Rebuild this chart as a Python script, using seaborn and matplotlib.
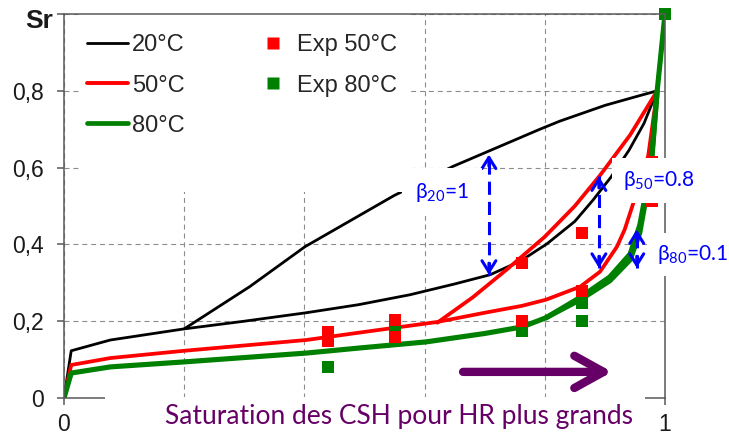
import matplotlib
matplotlib.use("Agg")
import matplotlib.pyplot as plt
import seaborn as sns
from matplotlib.patches import Rectangle
from matplotlib.lines import Line2D

# ---- isotherm curves (HR, Sr) ----
hr_20_ads = [0, 0.012, 0.077, 0.2, 0.3, 0.403, 0.49, 0.576, 0.65, 0.709, 0.76, 0.804, 0.85, 0.88, 0.91, 0.94, 0.965, 0.987, 1.0]
sr_20_ads = [0, 0.123, 0.151, 0.18, 0.20, 0.222, 0.243, 0.269, 0.297, 0.321, 0.357, 0.402, 0.46, 0.515, 0.575, 0.645, 0.715, 0.8, 1.0]
hr_20_des = [0.2, 0.309, 0.401, 0.549, 0.647, 0.792, 0.825, 0.9, 0.95, 0.987]
sr_20_des = [0.18, 0.29, 0.394, 0.527, 0.603, 0.70, 0.721, 0.762, 0.784, 0.8]

hr_50_ads = [0, 0.012, 0.077, 0.2, 0.403, 0.49, 0.621, 0.70, 0.762, 0.802, 0.859, 0.892, 0.92, 0.933, 0.953, 0.972, 0.987, 1.0]
sr_50_ads = [0, 0.086, 0.104, 0.123, 0.151, 0.17, 0.198, 0.222, 0.24, 0.256, 0.29, 0.329, 0.394, 0.439, 0.535, 0.63, 0.8, 1.0]
hr_50_des = [0.621, 0.68, 0.737, 0.80, 0.85, 0.892, 0.942, 0.987]
sr_50_des = [0.196, 0.262, 0.335, 0.42, 0.50, 0.58, 0.685, 0.8]

hr_80_ads = [0, 0.012, 0.077, 0.2, 0.403, 0.49, 0.602, 0.70, 0.762, 0.802, 0.859, 0.908, 0.942, 0.958, 0.97, 0.978, 0.987, 1.0]
sr_80_ads = [0, 0.065, 0.081, 0.094, 0.117, 0.13, 0.146, 0.168, 0.185, 0.209, 0.256, 0.305, 0.36, 0.43, 0.535, 0.62, 0.8, 1.0]
hr_80_des = [0.802, 0.859, 0.908, 0.942, 0.958, 0.97, 0.978, 0.987]
sr_80_des = [0.209, 0.262, 0.315, 0.375, 0.45, 0.55, 0.632, 0.8]

# ---- experimental points ----
hr_exp50 = [0.44, 0.44, 0.55, 0.55, 0.762, 0.762, 0.862, 0.862, 0.978, 0.978]
sr_exp50 = [0.148, 0.171, 0.160, 0.202, 0.201, 0.352, 0.279, 0.43, 0.513, 0.615]
hr_exp80 = [0.44, 0.55, 0.762, 0.862, 0.862, 1.0]
sr_exp80 = [0.081, 0.18, 0.175, 0.248, 0.201, 1.0]

# ---- hysteresis gaps (beta annotations) ----
beta_hr = [0.707, 0.89, 0.953]
beta_lo = [0.321, 0.339, 0.339]
beta_hi = [0.634, 0.577, 0.439]
beta_labels = [r"β$_\mathregular{20}$=1", r"β$_\mathregular{50}$=0.8", r"β$_\mathregular{80}$=0.1"]
beta_text_x = [0.584, 0.930, 0.987]
beta_text_y = [0.522, 0.551, 0.360]
beta_box_pad = [9, 8, 7]

yticks = [0, 0.2, 0.4, 0.6, 0.8, 1.0]
ytick_labels = ["0", "0,2", "0,4", "0,6", "0,8", ""]
xticks = [0, 0.2, 0.4, 0.6, 0.8, 1.0]
xtick_labels = ["0", "", "", "", "", "1"]

BLACK, RED, GREEN = "#000000", "#ff0000", "#008000"
BLUE, PURPLE, AXIS = "#0000ff", "#660066", "#595959"

sns.set_theme(style="white")
plt.rcParams["font.family"] = ["Liberation Sans", "DejaVu Sans"]

fig = plt.figure(figsize=(7.29, 4.38), dpi=100)
ax = fig.add_axes([64 / 729, 40 / 438, 601 / 729, 384 / 438])
ax.set_xlim(0, 1)
ax.set_ylim(0, 1)

# grid and frame
ax.set_axisbelow(True)
ax.grid(True, color="#8c8c8c", lw=0.8, linestyle=(0, (4.5, 3.5)))
for sp in ax.spines.values():
    sp.set_color(AXIS)
    sp.set_linewidth(1.1)
    sp.set_zorder(4.5)

ax.set_xticks(xticks, xtick_labels)
ax.set_yticks(yticks, ytick_labels)
ax.tick_params(axis="both", bottom=True, left=True, direction="out", length=5,
               width=1.1, color=AXIS, labelsize=16.5, labelcolor="#1a1a1a")
ax.tick_params(axis="y", pad=9.5)
ax.tick_params(axis="x", pad=6)

# curves
curves = [
    (hr_20_ads, sr_20_ads, BLACK, 2.0),
    (hr_20_des, sr_20_des, BLACK, 2.0),
    (hr_50_ads, sr_50_ads, RED, 2.7),
    (hr_50_des, sr_50_des, RED, 2.7),
    (hr_80_ads, sr_80_ads, GREEN, 3.7),
    (hr_80_des, sr_80_des, GREEN, 3.7),
]
for hx, sy, col, lw in curves:
    sns.lineplot(x=hx, y=sy, sort=False, estimator=None, color=col, lw=lw, ax=ax, zorder=2)

# experimental squares
sns.scatterplot(x=hr_exp80, y=sr_exp80, marker="s", s=64, color=GREEN, linewidth=0, ax=ax, zorder=3, clip_on=False)
sns.scatterplot(x=hr_exp50, y=sr_exp50, marker="s", s=64, color=RED, linewidth=0, ax=ax, zorder=3.2)

# dashed double arrows for the hysteresis amplitude
for x, lo, hi in zip(beta_hr, beta_lo, beta_hi):
    ax.plot([x, x], [lo, hi], color=BLUE, lw=2.2, dashes=(4.3, 2.3), zorder=3.5)
    for tip, base in ((hi, hi - 0.03), (lo, lo + 0.03)):
        ax.annotate("", xy=(x, tip), xytext=(x, base), zorder=3.5,
                    arrowprops=dict(arrowstyle="->,head_length=0.8,head_width=0.5",
                                    color=BLUE, lw=2.2, mutation_scale=10,
                                    shrinkA=0, shrinkB=0))

for lab, tx, ty, pad in zip(beta_labels, beta_text_x, beta_text_y, beta_box_pad):
    ax.text(tx, ty, lab, color=BLUE, fontsize=15, family=["Lato", "DejaVu Sans"],
            ha="left", va="baseline", zorder=5,
            bbox=dict(facecolor="white", edgecolor="none", pad=pad))

# purple arrow: direction of CSH saturation
ax.annotate("", xy=(0.912, 0.068), xytext=(0.664, 0.068), zorder=3.5,
            arrowprops=dict(arrowstyle="->,head_length=1.05,head_width=0.58",
                            color=PURPLE, lw=6, mutation_scale=20,
                            shrinkA=0, shrinkB=0, capstyle="round"))

# white panel behind the legend
ax.add_patch(Rectangle((0.027, 0.536), 0.549, 0.464, transform=ax.transAxes,
                       facecolor="white", edgecolor="none", zorder=4))

handles = [
    Line2D([], [], color=BLACK, lw=2.0),
    Line2D([], [], color=RED, lw=2.8),
    Line2D([], [], color=GREEN, lw=3.4),
    Line2D([], [], color=RED, marker="s", ls="none", markersize=8, mec="none"),
    Line2D([], [], color=GREEN, marker="s", ls="none", markersize=8, mec="none"),
]
labels = ["20°C", "50°C", "80°C", "Exp 50°C", "Exp 80°C"]
leg = ax.legend(handles, labels, ncol=2, loc="upper left", bbox_to_anchor=(0.0383, 0.947),
                borderaxespad=0, borderpad=0, frameon=False, fontsize=17,
                handlelength=1.74, handletextpad=0.17, labelspacing=0.77,
                columnspacing=2.86)
leg.set_zorder(6)

# caption under the axis, on a white band
ax.add_patch(Rectangle((0.068, -0.11), 0.899, 0.113, transform=ax.transAxes,
                       facecolor="white", edgecolor="none", zorder=5, clip_on=False))
ax.text(0.557, -0.0677, "Saturation des CSH pour HR plus grands", transform=ax.transAxes,
        color=PURPLE, fontsize=19, family=["Lato", "DejaVu Sans"],
        ha="center", va="baseline", zorder=6)

ax.text(-0.0183, 0.9635, "Sr", transform=ax.transAxes, ha="right", va="baseline",
        fontsize=19, fontweight="bold", color="#1a1a1a")

ax.set_xlabel("")
ax.set_ylabel("")
fig.savefig("out.png", dpi=100, facecolor="white")
